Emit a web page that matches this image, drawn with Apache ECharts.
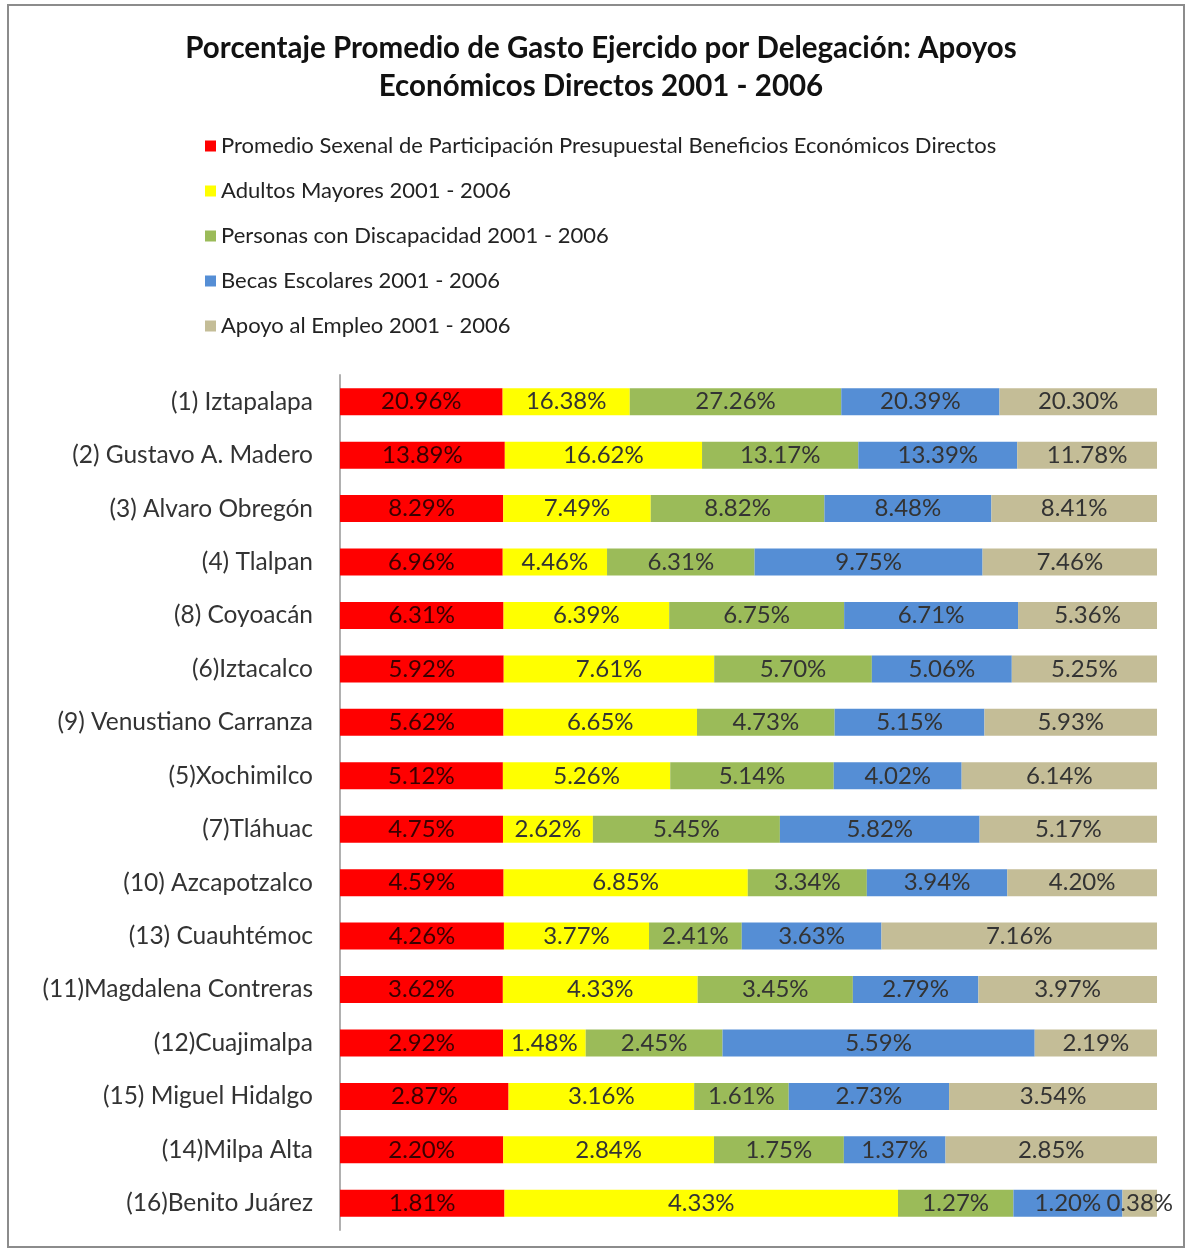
<!DOCTYPE html>
<html lang="es">
<head>
  <meta charset="UTF-8">
  <title>Gasto por Delegación</title>
  <style>
    html,body { width:100%; height:100%; margin:0; background:#fff; }
  </style>
</head>
<body>
  <div id="chart" style="width:1186px;height:1251px"></div>
  <script src="https://cdn.jsdelivr.net/npm/echarts@6/dist/echarts.min.js"></script>
  <script>
    var delegaciones = ['(1) Iztapalapa', '(2) Gustavo A. Madero', '(3) Alvaro Obregón', '(4) Tlalpan',
      '(8) Coyoacán', '(6)Iztacalco', '(9) Venustiano Carranza', '(5)Xochimilco', '(7)Tláhuac',
      '(10) Azcapotzalco', '(13) Cuauhtémoc', '(11)Magdalena Contreras', '(12)Cuajimalpa',
      '(15) Miguel Hidalgo', '(14)Milpa Alta', '(16)Benito Juárez'];

    var seriesNames = [
      'Promedio Sexenal de Participación Presupuestal Beneficios Económicos Directos',
      'Adultos Mayores 2001 - 2006',
      'Personas con Discapacidad 2001 - 2006',
      'Becas Escolares 2001 - 2006',
      'Apoyo al Empleo 2001 - 2006'
    ];

    var promedio = [20.96, 13.89, 8.29, 6.96, 6.31, 5.92, 5.62, 5.12, 4.75, 4.59, 4.26, 3.62, 2.92, 2.87, 2.20, 1.81];
    var adultos = [16.38, 16.62, 7.49, 4.46, 6.39, 7.61, 6.65, 5.26, 2.62, 6.85, 3.77, 4.33, 1.48, 3.16, 2.84, 4.33];
    var discapacidad = [27.26, 13.17, 8.82, 6.31, 6.75, 5.70, 4.73, 5.14, 5.45, 3.34, 2.41, 3.45, 2.45, 1.61, 1.75, 1.27];
    var becas = [20.39, 13.39, 8.48, 9.75, 6.71, 5.06, 5.15, 4.02, 5.82, 3.94, 3.63, 2.79, 5.59, 2.73, 1.37, 1.20];
    var empleo = [20.30, 11.78, 8.41, 7.46, 5.36, 5.25, 5.93, 6.14, 5.17, 4.20, 7.16, 3.97, 2.19, 3.54, 2.85, 0.38];

    var colors = ['#ff0000', '#ffff00', '#9bbb59', '#558ed5', '#c4bd97'];
    var all = [promedio, adultos, discapacidad, becas, empleo];

    // 100% stacked: each row is normalised to its own total
    var totals = delegaciones.map(function (d, i) {
      return all.reduce(function (s, arr) { return s + arr[i]; }, 0);
    });

    var series = all.map(function (arr, k) {
      return {
        name: seriesNames[k],
        type: 'bar',
        stack: 'total',
        barWidth: 27,
        itemStyle: { color: colors[k] },
        label: {
          show: true,
          position: 'inside',
          fontFamily: 'Lato',
          fontSize: 24,
          color: k === 0 ? '#3a0000' : '#333',
          formatter: function (p) { return arr[p.dataIndex].toFixed(2) + '%'; }
        },
        data: arr.map(function (v, i) { return v / totals[i]; })
      };
    });

    var myChart = echarts.init(document.getElementById('chart'));
    myChart.setOption({
      animation: false,
      title: {
        text: 'Porcentaje Promedio de Gasto Ejercido por Delegación: Apoyos\nEconómicos Directos 2001 - 2006',
        left: 596,
        textAlign: 'center',
        top: 24,
        textStyle: { fontFamily: 'Lato', fontSize: 29.5, fontWeight: 'bold', color: '#111', lineHeight: 38 }
      },
      legend: {
        orient: 'vertical',
        left: 200,
        top: 130,
        icon: 'rect',
        itemWidth: 11,
        itemHeight: 11,
        itemGap: 23,
        textStyle: { fontFamily: 'Lato', fontSize: 22, color: '#222' },
        data: seriesNames
      },
      graphic: [{
        type: 'rect',
        shape: { x: 8, y: 5, width: 1176, height: 1242 },
        style: { fill: 'none', stroke: '#8c8c8c', lineWidth: 2 },
        silent: true
      }],
      grid: { left: 340, right: 29, top: 375, bottom: 21 },
      xAxis: {
        type: 'value',
        min: 0,
        max: 1,
        show: false
      },
      yAxis: {
        type: 'category',
        inverse: true,
        data: delegaciones,
        axisLine: { lineStyle: { color: '#b0b0b0', width: 2 } },
        axisTick: { show: false },
        axisLabel: { fontFamily: 'Lato', fontSize: 24.5, color: '#333', margin: 27 }
      },
      series: series
    });
  </script>
</body>
</html>
